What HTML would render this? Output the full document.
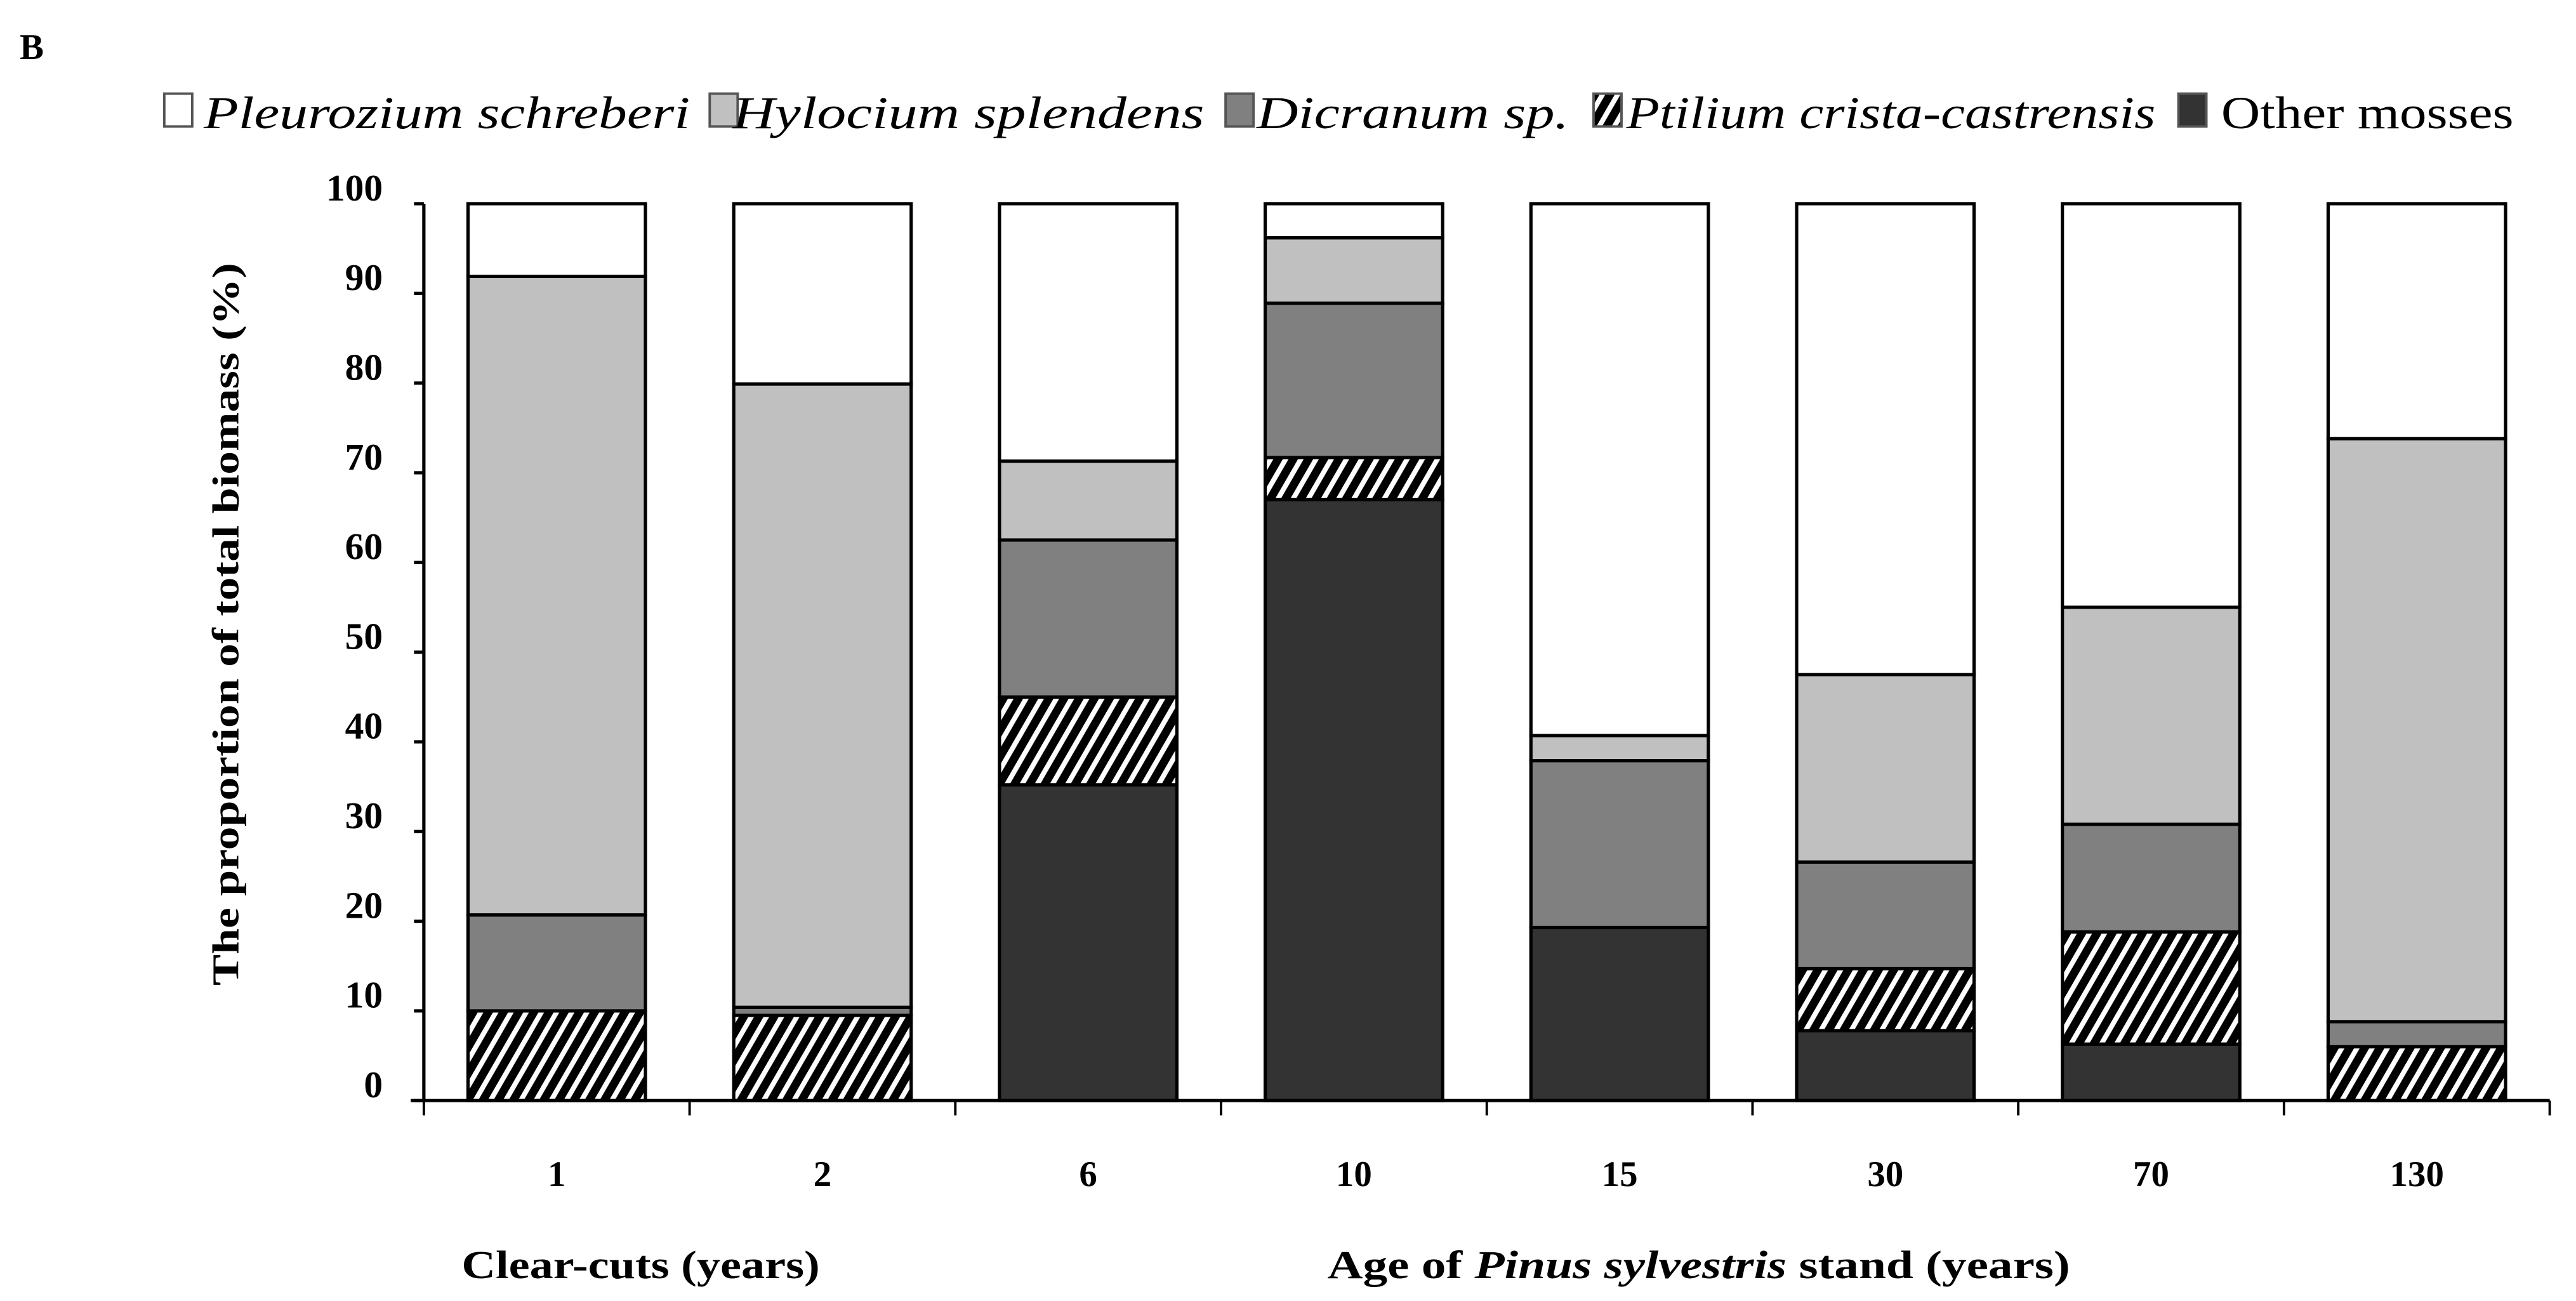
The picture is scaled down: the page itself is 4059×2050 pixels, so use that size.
<!DOCTYPE html>
<html><head><meta charset="utf-8"><style>
html,body{margin:0;padding:0;background:#fff}
svg{display:block}
text{font-family:"Liberation Serif",serif}
</style></head><body>
<svg id="chart" width="4059" height="2050" viewBox="0 0 1568 792" preserveAspectRatio="none" xmlns="http://www.w3.org/2000/svg">
<defs>
<pattern id="hatch" patternUnits="userSpaceOnUse" width="8" height="8" patternTransform="rotate(30)">
<rect width="8" height="8" fill="#000"/><rect x="0" y="0" width="3" height="8" fill="#fff"/>
</pattern>
</defs>
<text x="12" y="36" font-size="22" font-weight="bold">B</text>
<g id="legend"></g>
<g id="bars"></g>
<g id="axes"></g>
<text transform="translate(145,380) rotate(-90)" text-anchor="middle" font-size="23" font-weight="bold" textLength="440" lengthAdjust="spacingAndGlyphs">The proportion of total biomass (%)</text>
<text x="390" y="778" text-anchor="middle" font-size="24" font-weight="bold" textLength="218" lengthAdjust="spacingAndGlyphs">Clear-cuts (years)</text>
<text x="1034" y="778" text-anchor="middle" font-size="24" font-weight="bold" textLength="452" lengthAdjust="spacingAndGlyphs">Age of <tspan font-style="italic">Pinus sylvestris</tspan>  stand (years)</text>
</svg>
<script>
const categories = ["1","2","6","10","15","30","70","130"];
const otherMosses = [0,0,35.2,67,19.3,7.8,6.3,0];
const ptilium = [10,9.5,9.8,4.7,0,6.9,12.5,6];
const dicranum = [10.7,0.9,17.5,17.2,18.6,11.9,12,2.8];
const hylocium = [71.2,69.5,8.8,7.3,2.8,20.9,24.2,65];
const pleurozium = [8.1,20.1,28.7,3.8,59.3,52.5,45,26.2];
const yTicks = [0,10,20,30,40,50,60,70,80,90,100];
const seriesNames = ["Pleurozium schreberi","Hylocium splendens","Dicranum sp.","Ptilium crista-castrensis","Other mosses"];

const NS="http://www.w3.org/2000/svg";
const x0=258, x1=1552, yTop=124, yBot=670;
const y=v=>yBot-(v/100)*(yBot-yTop);
const band=(x1-x0)/categories.length;
const xc=i=>x0+band*(i+0.5);
const bw=108;
function mk(tag,attrs,parent){const e=document.createElementNS(NS,tag);for(const k in attrs)e.setAttribute(k,attrs[k]);parent.appendChild(e);return e;}
const barsG=document.getElementById('bars'), axesG=document.getElementById('axes'), legG=document.getElementById('legend');
const stack=[
 {vals:otherMosses,fill:"#333333",name:"other-mosses"},
 {vals:ptilium,fill:"url(#hatch)",name:"ptilium"},
 {vals:dicranum,fill:"#808080",name:"dicranum"},
 {vals:hylocium,fill:"#c0c0c0",name:"hylocium"},
 {vals:pleurozium,fill:"#ffffff",name:"pleurozium"}];
categories.forEach((c,i)=>{
  let acc=0;
  stack.forEach(s=>{
    const v=s.vals[i]; if(v<=0) return;
    const r=mk('rect',{x:xc(i)-bw/2,y:y(acc+v),width:bw,height:y(acc)-y(acc+v),fill:s.fill,stroke:"#000","stroke-width":2},barsG);
    
    
    acc+=v;
  });
  const t=mk('text',{x:xc(i),y:722,"text-anchor":"middle","font-size":22,"font-weight":"bold"},axesG);
  t.textContent=c;
  
  
});
mk('line',{x1:x0,y1:yTop,x2:x0,y2:yBot,stroke:"#000","stroke-width":2},axesG);
mk('line',{x1:x0-8,y1:yBot,x2:x1,y2:yBot,stroke:"#000","stroke-width":2},axesG);
yTicks.forEach(v=>{
  mk('line',{x1:x0-6,y1:y(v),x2:x0,y2:y(v),stroke:"#000","stroke-width":2},axesG);
  const t=mk('text',{x:233,y:y(v)-2,"text-anchor":"end","font-size":23,"font-weight":"bold"},axesG);
  t.textContent=v;
  
  
});
for(let i=0;i<=categories.length;i++){
  mk('line',{x1:x0+band*i,y1:yBot,x2:x0+band*i,y2:yBot+9,stroke:"#000","stroke-width":1.5},axesG);
}
const legFills=["#ffffff","#c0c0c0","#808080","url(#hatch)","#333333"];
const legBox=[100,432,746,970,1326];
const legTxt=[[124,296],[446,287],[765,190],[990,322],[1352,178]];
seriesNames.forEach((n,i)=>{
  const r=mk('rect',{x:legBox[i],y:57,width:17,height:20,fill:legFills[i],stroke:"#555","stroke-width":1.5},legG);
  
  
  const t=mk('text',{x:legTxt[i][0],y:78,"font-size":28,textLength:legTxt[i][1],lengthAdjust:"spacingAndGlyphs","font-style":i<4?"italic":"normal"},legG);
  t.textContent=n;
  
  
});
</script>
</body></html>
